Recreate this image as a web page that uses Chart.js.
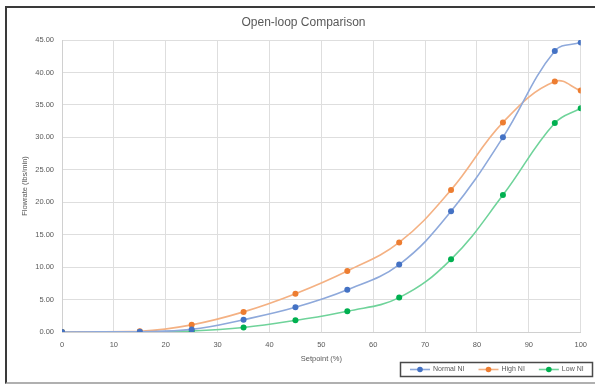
<!DOCTYPE html>
<html>
<head>
<meta charset="utf-8">
<script src="https://cdn.jsdelivr.net/npm/chart.js@4.4.1/dist/chart.umd.min.js"></script>
<style>
  html, body { margin: 0; padding: 0; background: #fff; overflow: hidden; }
  #wrap { position: relative; width: 595px; height: 385px; }
  #frame {
    position: absolute; left: 5px; top: 6px; width: 620px; height: 374px;
    border-top: 2px solid #3a3a3a; border-left: 2px solid #3a3a3a;
    border-bottom: 2px solid #b0b0b0; pointer-events: none;
  }
</style>
</head>
<body>
<div id="wrap">
  <canvas id="chart" width="595" height="385"></canvas>
  <div id="frame"></div>
</div>
<script>
// Setpoint (%) de cada medición
const setpoints = [0, 15, 25, 35, 45, 55, 65, 75, 85, 95, 100];

// Caudal (lbs/min) por condición
const normalNI = [0, 0.05, 0.4, 1.9, 3.8, 6.5, 10.4, 18.6, 30.0, 43.3, 44.6];
const highNI   = [0, 0.1, 1.1, 3.1, 5.9, 9.4, 13.8, 21.9, 32.3, 38.6, 37.2];
const lowNI    = [0, 0, 0.15, 0.7, 1.8, 3.2, 5.3, 11.2, 21.1, 32.2, 34.5];

const seriesNames = ['Normal NI', 'High NI', 'Low NI'];
const yTicks = [0, 5, 10, 15, 20, 25, 30, 35, 40, 45];
const chartTitle = 'Open-loop Comparison';

const markerColors = ['#4472C4', '#ED7D31', '#00B050'];
const lineColors = ['#8EA9DB', '#F4B183', '#6FD39A'];
const txtColor = '#595959';
const FONT = '"Liberation Sans", Arial, sans-serif';

function toPoints(vals) {
    return setpoints.map((x, i) => ({ x: x, y: vals[i] }));
}

const datasets = [normalNI, highNI, lowNI].map((vals, i) => ({
    label: seriesNames[i],
    data: toPoints(vals),
    borderColor: lineColors[i],
    backgroundColor: markerColors[i],
    borderWidth: 1.6,
    pointRadius: 3,
    pointBorderWidth: 0,
    pointBackgroundColor: markerColors[i],
    tension: 0.4,
    fill: false
}));

// Título centrado sobre el marco (no sobre el canvas)
const frameTitle = {
    id: 'frameTitle',
    afterDraw(chart) {
        const ctx = chart.ctx;
        ctx.save();
        ctx.font = '12px ' + FONT;
        ctx.fillStyle = txtColor;
        ctx.textAlign = 'center';
        ctx.textBaseline = 'middle';
        ctx.fillText(chartTitle, 303.5, 23);
        ctx.restore();
    }
};

// Leyenda con recuadro abajo a la derecha (línea + marcador)
const boxLegend = {
    id: 'boxLegend',
    afterDraw(chart) {
        const ctx = chart.ctx;
        ctx.save();
        ctx.font = '7px ' + FONT;
        ctx.textBaseline = 'middle';
        const y = 369.5;
        let x = 410;
        chart.data.datasets.forEach((ds, i) => {
            ctx.strokeStyle = lineColors[i];
            ctx.lineWidth = 1.6;
            ctx.beginPath();
            ctx.moveTo(x, y);
            ctx.lineTo(x + 20, y);
            ctx.stroke();
            ctx.fillStyle = markerColors[i];
            ctx.beginPath();
            ctx.arc(x + 10, y, 2.8, 0, Math.PI * 2);
            ctx.fill();
            ctx.fillStyle = txtColor;
            ctx.fillText(ds.label, x + 23, y);
            x += 23 + ctx.measureText(ds.label).width + 14;
        });
        ctx.strokeStyle = '#4a4a4a';
        ctx.lineWidth = 1.5;
        ctx.strokeRect(400.5, 362.5, 192, 14);
        ctx.restore();
    }
};

new Chart(document.getElementById('chart'), {
    type: 'line',
    data: { datasets: datasets },
    plugins: [frameTitle, boxLegend],
    options: {
        responsive: false,
        animation: false,
        layout: { padding: { left: 0, right: 12, top: 40, bottom: 13 } },
        plugins: {
            legend: { display: false },
            tooltip: { enabled: false },
            title: { display: false }
        },
        scales: {
            x: {
                type: 'linear',
                min: 0,
                max: 100,
                afterFit: (s) => { s.height = 40; },
                grid: { color: '#dedede', drawTicks: false },
                border: { color: '#d0d0d0' },
                ticks: {
                    stepSize: 10,
                    padding: 8,
                    color: txtColor,
                    font: { family: FONT, size: 7.5 }
                },
                title: {
                    display: true,
                    text: 'Setpoint (%)',
                    color: txtColor,
                    font: { family: FONT, size: 7.5 },
                    padding: { top: 0, bottom: 9 }
                }
            },
            y: {
                min: 0,
                max: 45,
                afterFit: (s) => { s.width = 62; },
                afterBuildTicks: (s) => { s.ticks = yTicks.map(v => ({ value: v })); },
                grid: { color: '#dedede', drawTicks: false },
                border: { color: '#d0d0d0' },
                ticks: {
                    padding: 8,
                    color: txtColor,
                    font: { family: FONT, size: 7.5 },
                    callback: (v) => v.toFixed(2)
                },
                title: {
                    display: true,
                    text: 'Flowrate (lbs/min)',
                    color: txtColor,
                    font: { family: FONT, size: 7.5 },
                    padding: { top: 20, bottom: 0 }
                }
            }
        }
    }
});
</script>
</body>
</html>
